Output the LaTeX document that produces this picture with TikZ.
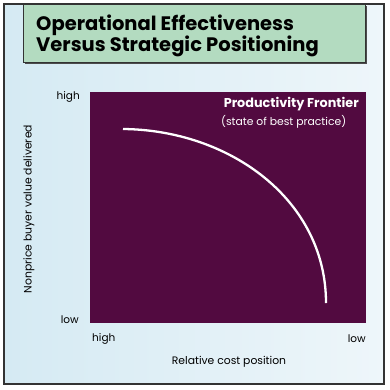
\documentclass[tikz,border=0pt]{standalone}
\usepackage{fontspec}
\setmainfont{Poppins}
\definecolor{bgA}{HTML}{D5EAF3}
\definecolor{bgB}{HTML}{EEF6FA}
\definecolor{titlegreen}{HTML}{B3DBC0}
\definecolor{plum}{HTML}{520A40}
\definecolor{framegray}{HTML}{333333}
\tikzset{
  axlabel/.style={font=\fontsize{10.5}{12}\selectfont, inner sep=0pt, text=black},
  titletext/.style={font=\bfseries\fontsize{19.5}{22}\selectfont, align=left, inner sep=0pt, anchor=north west},
}
\begin{document}
\begin{tikzpicture}[x=1pt,y=-1pt]
\useasboundingbox (0,0) rectangle (390,389);
% background
\shade[left color=bgA, right color=bgB] (4,4) rectangle (384,384);
\draw[framegray, line width=1.2pt] (4,4) rectangle (384,384);
% title box
\fill[black!70] (25,6) rectangle (367,64);
\node[draw=framegray, line width=0.8pt, fill=titlegreen, minimum width=342pt, minimum height=58pt, anchor=north west, inner sep=0pt] (titlebox) at (23,4) {};
\node[titletext] (title) at (36,15) {Operational Effectiveness\\[-1pt]Versus Strategic Positioning};
% plot area
\node[fill=plum, minimum width=276pt, minimum height=231pt, anchor=north west, inner sep=0pt] (plot) at (90,92) {};
% curve
\draw[white, line width=2.3pt] (123,129) .. controls (230,130) and (326,200) .. (326,303);
% labels
\node[font=\bfseries\fontsize{12.8}{14}\selectfont, text=white, anchor=east, inner sep=0pt] (pf) at (359,104) {Productivity Frontier};
\node[font=\fontsize{10.8}{12}\selectfont, text=white, anchor=west, inner sep=0pt] (bp) at (221,122) {(state of best practice)};
\node[axlabel, anchor=east] (yhigh) at (80,97) {high};
\node[axlabel, anchor=east] (ylow) at (79,320) {low};
\node[axlabel, anchor=west] (xhigh) at (92,339) {high};
\node[axlabel, anchor=east] (xlow) at (366,339) {low};
\node[axlabel, font=\fontsize{10.8}{12}\selectfont] (xlab) at (229,362) {Relative cost position};
\node[axlabel, font=\fontsize{10.8}{12}\selectfont, rotate=90] (ylab) at (29,209) {Nonprice buyer value delivered};
\end{tikzpicture}
\end{document}
